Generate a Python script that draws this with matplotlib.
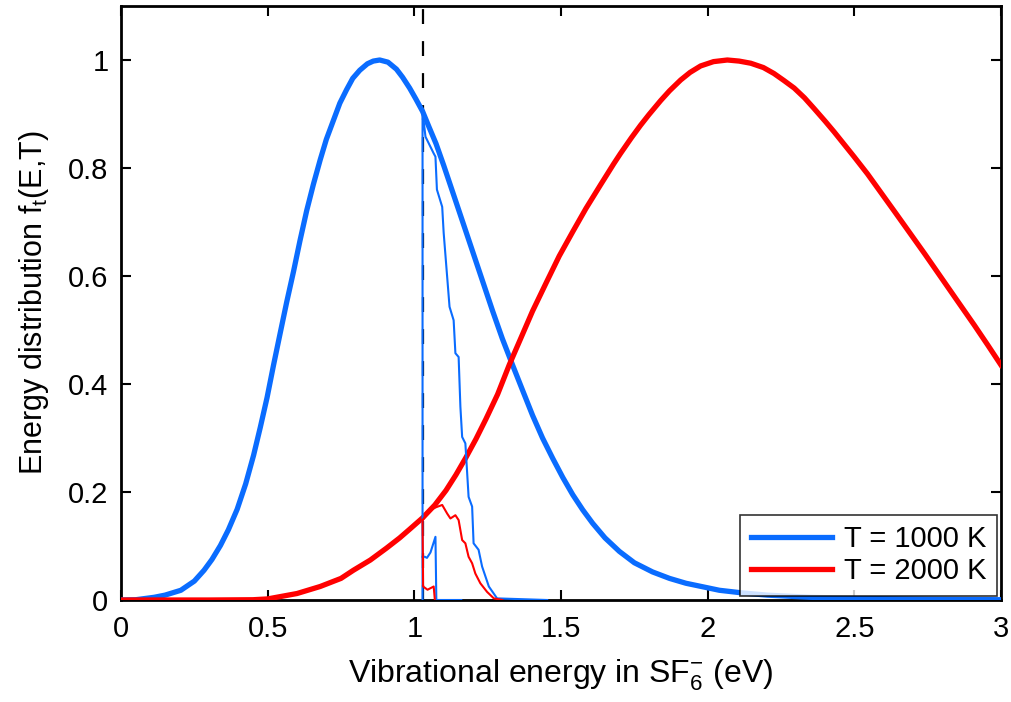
import matplotlib
matplotlib.use("Agg")
import matplotlib.pyplot as plt

plt.rcParams['font.family'] = ['Liberation Sans', 'DejaVu Sans']
plt.rcParams['mathtext.fontset'] = 'custom'
plt.rcParams['mathtext.rm'] = 'Liberation Sans'
plt.rcParams['mathtext.it'] = 'Liberation Sans'
plt.rcParams['mathtext.default'] = 'regular'

# ---- data ----
# thick blue: T = 1000 K
e_1000 = [0.0, 0.05, 0.113, 0.15, 0.204, 0.25, 0.283, 0.31, 0.339, 0.366, 0.396,
          0.425, 0.452, 0.475, 0.498, 0.52, 0.543, 0.565, 0.588, 0.61, 0.633,
          0.656, 0.679, 0.70, 0.724, 0.746, 0.769, 0.79, 0.814, 0.84, 0.86,
          0.882, 0.91, 0.939, 0.96, 0.984, 1.005, 1.028, 1.05, 1.074, 1.10,
          1.131, 1.165, 1.199, 1.233, 1.267, 1.30, 1.335, 1.37, 1.403, 1.437,
          1.472, 1.506, 1.540, 1.574, 1.608, 1.65, 1.699, 1.75, 1.812, 1.87,
          1.926, 2.04, 2.12, 2.204, 2.35, 2.5, 2.75, 3.0]
f_1000 = [0.0, 0.0005, 0.005, 0.009, 0.018, 0.035, 0.055, 0.075, 0.101, 0.13, 0.168,
          0.215, 0.268, 0.32, 0.375, 0.435, 0.495, 0.552, 0.608, 0.665, 0.721,
          0.77, 0.815, 0.853, 0.888, 0.92, 0.945, 0.966, 0.981, 0.993, 0.998,
          1.0, 0.996, 0.983, 0.968, 0.948, 0.928, 0.905, 0.876, 0.845, 0.805,
          0.755, 0.700, 0.645, 0.590, 0.535, 0.484, 0.435, 0.387, 0.342, 0.300,
          0.262, 0.227, 0.195, 0.167, 0.142, 0.115, 0.090, 0.069, 0.052, 0.040,
          0.031, 0.018, 0.013, 0.009, 0.005, 0.003, 0.0015, 0.0005]

# thick red: T = 2000 K
e_2000 = [0.0, 0.3, 0.45, 0.5, 0.6, 0.679, 0.75, 0.792, 0.85, 0.905, 0.95, 0.984,
          1.028, 1.07, 1.108, 1.142, 1.176, 1.21, 1.244, 1.284, 1.324, 1.364,
          1.403, 1.45, 1.494, 1.54, 1.585, 1.635, 1.68, 1.703, 1.74, 1.771,
          1.80, 1.84, 1.87, 1.908, 1.94, 1.976, 2.02, 2.067, 2.107, 2.147, 2.19,
          2.226, 2.26, 2.295, 2.33, 2.363, 2.40, 2.431, 2.465, 2.499, 2.545,
          2.590, 2.635, 2.681, 2.74, 2.795, 2.85, 2.909, 2.955, 3.0]
f_2000 = [0.0, 0.0, 0.0005, 0.002, 0.012, 0.025, 0.04, 0.055, 0.074, 0.096, 0.115,
          0.131, 0.152, 0.176, 0.203, 0.232, 0.264, 0.298, 0.335, 0.381, 0.436,
          0.486, 0.535, 0.588, 0.637, 0.682, 0.725, 0.769, 0.808, 0.827, 0.856,
          0.879, 0.899, 0.925, 0.943, 0.963, 0.977, 0.989, 0.997, 1.0, 0.998,
          0.994, 0.986, 0.975, 0.962, 0.948, 0.930, 0.910, 0.887, 0.867, 0.844,
          0.821, 0.789, 0.755, 0.721, 0.686, 0.641, 0.598, 0.555, 0.509, 0.472,
          0.435]

# thin blue: remaining distribution above threshold (1000 K)
e_1000_a = [1.028, 1.028, 1.038, 1.066, 1.072, 1.077, 1.095, 1.100, 1.120, 1.134,
            1.140, 1.151, 1.157, 1.163, 1.174, 1.185, 1.197, 1.202, 1.219, 1.231,
            1.254, 1.282, 1.453]
f_1000_a = [0.0, 0.904, 0.858, 0.827, 0.821, 0.760, 0.728, 0.680, 0.543, 0.518,
            0.457, 0.450, 0.358, 0.302, 0.290, 0.191, 0.173, 0.105, 0.093, 0.062,
            0.025, 0.003, 0.0]
e_1000_b = [1.028, 1.036, 1.043, 1.055, 1.072, 1.075, 1.16]
f_1000_b = [0.080, 0.080, 0.078, 0.088, 0.117, 0.0, 0.0]

# thin red: remaining distribution above threshold (2000 K)
e_2000_a = [1.028, 1.055, 1.075, 1.095, 1.112, 1.123, 1.140, 1.151, 1.163, 1.174,
            1.185, 1.197, 1.208, 1.225, 1.248, 1.271, 1.30]
f_2000_a = [0.148, 0.167, 0.172, 0.176, 0.160, 0.151, 0.157, 0.148, 0.111, 0.105,
            0.080, 0.068, 0.049, 0.031, 0.015, 0.003, 0.0]
e_2000_b = [1.028, 1.030, 1.045, 1.066, 1.070]
f_2000_b = [0.148, 0.025, 0.019, 0.025, 0.0]

threshold = 1.028
xticks = [0, 0.5, 1, 1.5, 2, 2.5, 3]
xticklabels = ['0', '0.5', '1', '1.5', '2', '2.5', '3']
yticks = [0, 0.2, 0.4, 0.6, 0.8, 1]
yticklabels = ['0', '0.2', '0.4', '0.6', '0.8', '1']
labels = ['T = 1000 K', 'T = 2000 K']

BLUE = '#0a6cff'
RED = '#ff0000'

fig = plt.figure(figsize=(10.12, 7.02), dpi=100)
ax = fig.add_axes([121 / 1012, 1 - 600 / 702, 880 / 1012, 594 / 702])

ax.axvline(threshold, color='black', lw=1.6, dashes=(6.7, 7.7), zorder=1)
ax.plot(e_1000, f_1000, color=BLUE, lw=3.8, label=labels[0], zorder=3,
        solid_joinstyle='round')
ax.plot(e_2000, f_2000, color=RED, lw=3.8, label=labels[1], zorder=3,
        solid_joinstyle='round')
ax.plot(e_1000_a, f_1000_a, color=BLUE, lw=1.5, zorder=4)
ax.plot(e_1000_b, f_1000_b, color=BLUE, lw=1.5, zorder=4)
ax.plot(e_2000_a, f_2000_a, color=RED, lw=1.5, zorder=4)
ax.plot(e_2000_b, f_2000_b, color=RED, lw=1.5, zorder=4)

ax.set_xlim(0, 3)
ax.set_ylim(0, 1.1)
ax.set_xticks(xticks)
ax.set_xticklabels(xticklabels)
ax.set_yticks(yticks)
ax.set_yticklabels(yticklabels)
ax.tick_params(direction='in', length=7, width=1.5, top=True, right=True,
               labelsize=21, pad=9)
ax.tick_params(axis='x', pad=11)
for s in ax.spines.values():
    s.set_linewidth(2)

ax.set_xlabel(r'Vibrational energy in SF$_6^{-}$ (eV)', fontsize=23, labelpad=10)
ax.set_ylabel(r'Energy distribution f$_t$(E,T)', fontsize=22, labelpad=12)

leg = ax.legend(loc='lower right', fontsize=21, frameon=True, fancybox=False,
                edgecolor='black', handlelength=2.8, borderpad=0.35,
                labelspacing=0.15, handletextpad=0.4, borderaxespad=0.15)
leg.get_frame().set_linewidth(1.2)

fig.savefig('out.png', dpi=100)
